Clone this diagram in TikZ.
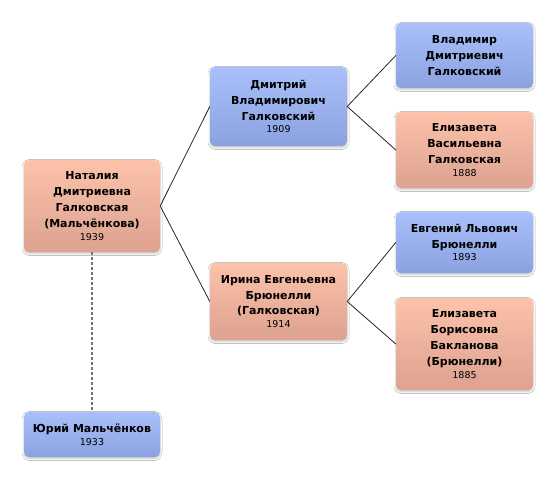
\documentclass[tikz,border=0pt]{standalone}
\usepackage{fontspec}
\setmainfont{DejaVu Sans}
\usetikzlibrary{shadows.blur}
\definecolor{bluetop}{HTML}{A9C0FA}
\definecolor{bluebot}{HTML}{8AA2E0}
\definecolor{salmtop}{HTML}{FCC2AA}
\definecolor{salmbot}{HTML}{DDA290}
\tikzset{
 person/.style={rounded corners=5pt, inner sep=0pt, align=center,
   font=\fontsize{11}{15.8}\selectfont\bfseries,
   blur shadow={shadow xshift=0pt, shadow yshift=-1.5pt, shadow blur radius=2pt, shadow opacity=25}},
 male/.style={person, top color=bluetop, bottom color=bluebot},
 female/.style={person, top color=salmtop, bottom color=salmbot},
 link/.style={line width=0.8pt, black!85},
 spouse/.style={line width=1.3pt, black!55, dash pattern=on 3pt off 2pt},
}
\newcommand{\yr}[1]{\\[-3pt]{\fontsize{9.5}{11}\selectfont\mdseries #1}}
\begin{document}
\begin{tikzpicture}[x=1pt, y=-1pt]
\useasboundingbox[fill=white] (0,0) rectangle (556,481);
\node[female, minimum width=136pt, minimum height=92pt] (a) at (92,206)
  {Наталия\\Дмитриевна\\Галковская\\(Мальчёнкова)\yr{1939}};
\node[male, minimum width=137pt, minimum height=79pt] (b) at (278.5,106.5)
  {Дмитрий\\Владимирович\\Галковский\yr{1909}};
\node[female, minimum width=137pt, minimum height=77pt] (c) at (278.5,301.5)
  {Ирина Евгеньевна\\Брюнелли\\(Галковская)\yr{1914}};
\node[male, minimum width=137pt, minimum height=65pt] (d) at (464.5,55.5)
  {Владимир\\Дмитриевич\\Галковский};
\node[female, minimum width=137pt, minimum height=76pt] (e) at (464.5,150)
  {Елизавета\\Васильевна\\Галковская\yr{1888}};
\node[male, minimum width=137pt, minimum height=61pt] (f) at (464.5,242.5)
  {Евгений Львович\\Брюнелли\yr{1893}};
\node[female, minimum width=137pt, minimum height=92pt] (g) at (464.5,344)
  {Елизавета\\Борисовна\\Бакланова\\(Брюнелли)\yr{1885}};
\node[male, minimum width=136pt, minimum height=45pt] (h) at (92,434.5)
  {Юрий Мальчёнков\yr{1933}};
\draw[link] (a.east) -- (b.west);
\draw[link] (a.east) -- (c.west);
\draw[link] (b.east) -- (d.west);
\draw[link] (b.east) -- (e.west);
\draw[link] (c.east) -- (f.west);
\draw[link] (c.east) -- (g.west);
\draw[spouse] (a.south) -- (h.north);
\end{tikzpicture}
\end{document}
